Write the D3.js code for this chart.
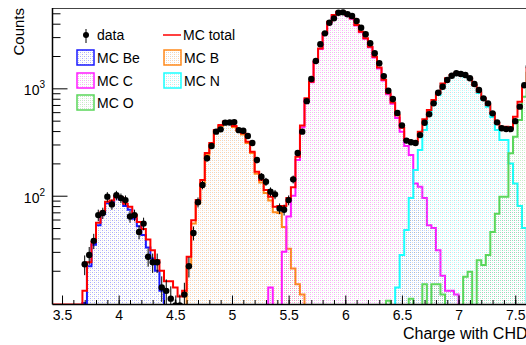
<!DOCTYPE html>
<html>
<head>
<meta charset="utf-8">
<script src="https://cdn.jsdelivr.net/npm/d3@7"></script>
<style>
  body { margin: 0; background: #fff; overflow: hidden; }
  svg { display: block; font-family: "Liberation Sans", Arial, Helvetica, sans-serif; }
</style>
</head>
<body>
<script>
// binning: 0.04 wide bins, first bin starts at 3.68
var binWidth = 0.04;
var binStart = 3.68;

// data counts, bin centres 3.70, 3.74, ...
var dataCounts = [23, 28, 38, 66, 69, 98, 83, 101, 95, 91,
  64, 66, 46, 55, 27, 24, 24, 14, 13, 11,
  8, 9, 12, 22, 45, 87, 126, 223, 290, 395,
  415, 479, 480, 485, 408, 403, 360, 310, 215, 150,
  135, 109, 103, 76, 74, 91, 142, 250, 395, 760,
  1222, 1795, 2570, 3250, 4075, 4485, 5060, 5100, 4900, 4710,
  4235, 3665, 3185, 2630, 2120, 1710, 1300, 950, 795, 590,
  452, 326, 315, 310, 367, 478, 573, 725, 910, 1035,
  1195, 1310, 1380, 1360, 1330, 1240, 1097, 965, 807, 725,
  585, 482, 425, 417, 417, 495, 675, 1070, 1600, 2200];

var mcTotal = [13, 24, 37, 56, 71, 88, 90, 100, 96, 84,
  79, 66, 57, 49, 39, 31, 25, 20, 16, 16,
  14, 11.5, 13, 27, 59, 91, 140, 250, 310, 409,
  455, 490, 490, 446, 409, 381, 318, 257, 167, 140,
  113, 98, 79, 80, 80, 95, 120, 230, 450, 807,
  1150, 1775, 2355, 3250, 4170, 4810, 5165, 5165, 4810, 4490,
  3890, 3365, 2922, 2440, 1970, 1560, 1200, 900, 740, 560,
  430, 330, 318, 320, 395, 514, 628, 777, 898, 1112,
  1240, 1330, 1380, 1380, 1310, 1240, 1070, 930, 807, 700,
  585, 472, 438, 438, 424, 543, 750, 1035, 1550, 2100];

// each MC species: lower edge of its first bin + contents
var beFrom = 3.68;
var mcBe = [10, 22, 35, 53, 68, 85, 87, 97, 92, 80, 74, 61, 52, 43, 33, 26, 20, 13];
var bFrom = 4.56;
var mcB = [9, 22, 55, 85, 132, 240, 300, 400, 445, 480,
  480, 436, 400, 372, 310, 250, 160, 133, 106, 90,
  70, 69, 51, 32, 21, 15, 12];
var cFrom = 5.32;
var mcC = [14, 0, 0, 30, 64, 100, 215, 435, 795, 1140,
  1760, 2330, 3220, 4130, 4770, 5120, 5120, 4770, 4450, 3850,
  3330, 2890, 2410, 1940, 1530, 1180, 880, 720, 530, 395,
  290, 239, 130, 121, 95, 53, 50, 31, 18, 13, 13, 12];
var nFrom = 6.44;
var mcN = [14, 28, 48, 95, 174, 266, 410, 570, 725, 867,
  1094, 1227, 1317, 1368, 1360, 1290, 1220, 1070, 905, 785,
  672, 540, 409, 330, 330, 200, 130, 80, 50];
var oFrom = 6.36;
var mcO = [10.5, 0, 0, 0, 0, 11, 0, 0, 15, 0,
  15, 15, 12, 0, 0, 0, 0, 17.6, 19.6, 0,
  25, 22.6, 28, 46, 68, 98, 98, 248, 355, 507,
  834, 1400, 2000];

var xTicks = [3.5, 4, 4.5, 5, 5.5, 6, 6.5, 7, 7.5];
var yTicks = [100, 1000];

var width = 526, height = 345;
var fL = 52.5, fR = 545, fT = 8, fB = 304.5;

var svg = d3.select("body").append("svg")
  .attr("width", width)
  .attr("height", height);

var x = d3.scaleLinear().domain([3.416, 7.76]).range([fL, 544.7]);
var y = d3.scaleLog().domain([9.7, 5600]).range([fB, fT]);

var defs = svg.append("defs");
defs.append("clipPath").attr("id", "plotClip")
  .append("rect")
  .attr("x", fL).attr("y", fT)
  .attr("width", fR - fL).attr("height", fB - fT);

// sparse dotted fill, like ROOT's fill style 3001 shrunk down
function addPattern(id, color) {
  var p = defs.append("pattern")
    .attr("id", id)
    .attr("patternUnits", "userSpaceOnUse")
    .attr("width", 4).attr("height", 4);
  p.append("rect").attr("x", 0).attr("y", 0).attr("width", 1).attr("height", 1)
    .attr("fill", color).attr("fill-opacity", 0.38);
  p.append("rect").attr("x", 2).attr("y", 2).attr("width", 1).attr("height", 1)
    .attr("fill", color).attr("fill-opacity", 0.38);
  p.append("rect").attr("x", 2).attr("y", 0).attr("width", 1).attr("height", 1)
    .attr("fill", "#777").attr("fill-opacity", 0.3);
  p.append("rect").attr("x", 0).attr("y", 2).attr("width", 1).attr("height", 1)
    .attr("fill", "#777").attr("fill-opacity", 0.15);
}

var species = [
  { name: "MC Be", from: beFrom, values: mcBe, color: "#1a1aff", id: "patBe" },
  { name: "MC B", from: bFrom, values: mcB, color: "#ff8a1c", id: "patB" },
  { name: "MC C", from: cFrom, values: mcC, color: "#ff1aff", id: "patC" },
  { name: "MC N", from: nFrom, values: mcN, color: "#1affff", id: "patN" },
  { name: "MC O", from: oFrom, values: mcO, color: "#5ad65a", id: "patO" }
];
species.forEach(function (s) { addPattern(s.id, s.color); });

function yc(v) {
  return v > y.domain()[0] ? y(v) : fB + 1;
}

// step outline of a histogram, closed down to the bottom of the frame
function stepPath(from, values) {
  var p = d3.path();
  p.moveTo(x(from), fB + 1);
  values.forEach(function (v, i) {
    var lo = from + i * binWidth;
    p.lineTo(x(lo), yc(v));
    p.lineTo(x(lo + binWidth), yc(v));
  });
  p.lineTo(x(from + values.length * binWidth), fB + 1);
  return p.toString();
}

// frame
svg.append("line").attr("x1", fL).attr("x2", width).attr("y1", fT + 0.5).attr("y2", fT + 0.5)
  .attr("stroke", "#444").attr("stroke-width", 1);

var plot = svg.append("g").attr("clip-path", "url(#plotClip)");

species.forEach(function (s) {
  plot.append("path")
    .attr("d", stepPath(s.from, s.values))
    .attr("fill", "url(#" + s.id + ")")
    .attr("stroke", s.color)
    .attr("stroke-width", 2)
    .attr("stroke-linejoin", "miter");
});

// MC total, flat along the bottom where empty
var totPath = d3.path();
totPath.moveTo(fL, fB);
totPath.lineTo(x(binStart), fB);
mcTotal.forEach(function (v, i) {
  var lo = binStart + i * binWidth;
  totPath.lineTo(x(lo), yc(v));
  totPath.lineTo(x(lo + binWidth), yc(v));
});
plot.append("path")
  .attr("d", totPath.toString())
  .attr("fill", "none")
  .attr("stroke", "#ff0000")
  .attr("stroke-width", 2);

// data points with sqrt(N) errors
var pts = dataCounts.map(function (c, i) {
  return { x: binStart + (i + 0.5) * binWidth, c: c };
});
plot.selectAll(".err").data(pts).enter().append("line")
  .attr("class", "err")
  .attr("x1", function (d) { return x(d.x); })
  .attr("x2", function (d) { return x(d.x); })
  .attr("y1", function (d) { return yc(Math.max(d.c - Math.sqrt(d.c), 0.1)); })
  .attr("y2", function (d) { return yc(d.c + Math.sqrt(d.c)); })
  .attr("stroke", "#000")
  .attr("stroke-width", 1);
plot.selectAll(".pt").data(pts).enter().append("circle")
  .attr("class", "pt")
  .attr("cx", function (d) { return x(d.x); })
  .attr("cy", function (d) { return yc(d.c); })
  .attr("r", 3.2)
  .attr("fill", "#000");

// axes
var xMinor = d3.range(35, 78).map(function (d) { return d / 10; });
svg.append("g")
  .attr("transform", "translate(0," + fB + ")")
  .call(d3.axisBottom(x).tickValues(xMinor).tickSize(-4.5).tickFormat(""))
  .call(function (g) { g.select(".domain").remove(); });
var xAx = svg.append("g")
  .attr("transform", "translate(0," + fB + ")")
  .call(d3.axisBottom(x).tickValues(xTicks).tickSize(-9).tickPadding(6).tickFormat(d3.format("")));
xAx.select(".domain").attr("stroke", "#000").attr("stroke-width", 1.5)
  .attr("d", "M" + fL + ",0H" + width);
xAx.selectAll("text").attr("font-size", 14).attr("fill", "#000")
  .attr("font-family", "'Liberation Sans', Arial, sans-serif");

var yMinor = [];
[10, 100, 1000].forEach(function (dec) {
  for (var m = 2; m <= 9; m++) {
    var v = dec * m;
    if (v < 5600) yMinor.push(v);
  }
});
svg.append("g")
  .attr("transform", "translate(" + fL + ",0)")
  .call(d3.axisLeft(y).tickValues(yMinor).tickSize(-8).tickFormat(""))
  .call(function (g) { g.select(".domain").remove(); });
var yAx = svg.append("g")
  .attr("transform", "translate(" + fL + ",0)")
  .call(d3.axisLeft(y).tickValues(yTicks).tickSize(-15).tickFormat(""));
yAx.select(".domain").attr("stroke", "#000").attr("stroke-width", 1.5)
  .attr("d", "M0," + fT + "V" + fB);

yTicks.forEach(function (t) {
  var lab = svg.append("text")
    .attr("x", 45)
    .attr("y", y(t) + 7)
    .attr("text-anchor", "end")
    .attr("font-size", 14)
    .attr("fill", "#000");
  lab.append("tspan").text("10");
  lab.append("tspan").attr("font-size", 10).attr("dy", -7).text(Math.round(Math.log10(t)));
});

// axis titles
svg.append("text")
  .attr("transform", "translate(24," + fT + ") rotate(-90)")
  .attr("text-anchor", "end")
  .attr("font-size", 15)
  .text("Counts");
svg.append("text")
  .attr("x", 403)
  .attr("y", 339)
  .attr("font-size", 16)
  .text("Charge with CHD");

// legend
var leg = svg.append("g").attr("font-size", 14);
leg.append("line").attr("x1", 86).attr("x2", 86).attr("y1", 29).attr("y2", 43)
  .attr("stroke", "#000").attr("stroke-width", 1);
leg.append("circle").attr("cx", 86).attr("cy", 35).attr("r", 3).attr("fill", "#000");
leg.append("text").attr("x", 97).attr("y", 40).text("data");
leg.append("line").attr("x1", 163).attr("x2", 181).attr("y1", 35).attr("y2", 35)
  .attr("stroke", "#ff0000").attr("stroke-width", 1.5);
leg.append("text").attr("x", 183).attr("y", 40).text("MC total");

var slots = [[77, 50], [164, 50], [77, 73], [164, 73], [77, 95]];
species.forEach(function (s, i) {
  var sx = slots[i][0], sy = slots[i][1];
  leg.append("rect")
    .attr("x", sx).attr("y", sy).attr("width", 17).attr("height", 15)
    .attr("fill", "url(#" + s.id + ")")
    .attr("stroke", s.color).attr("stroke-width", 1.5);
  leg.append("text").attr("x", sx + 20).attr("y", sy + 13).text(s.name);
});
</script>
</body>
</html>
